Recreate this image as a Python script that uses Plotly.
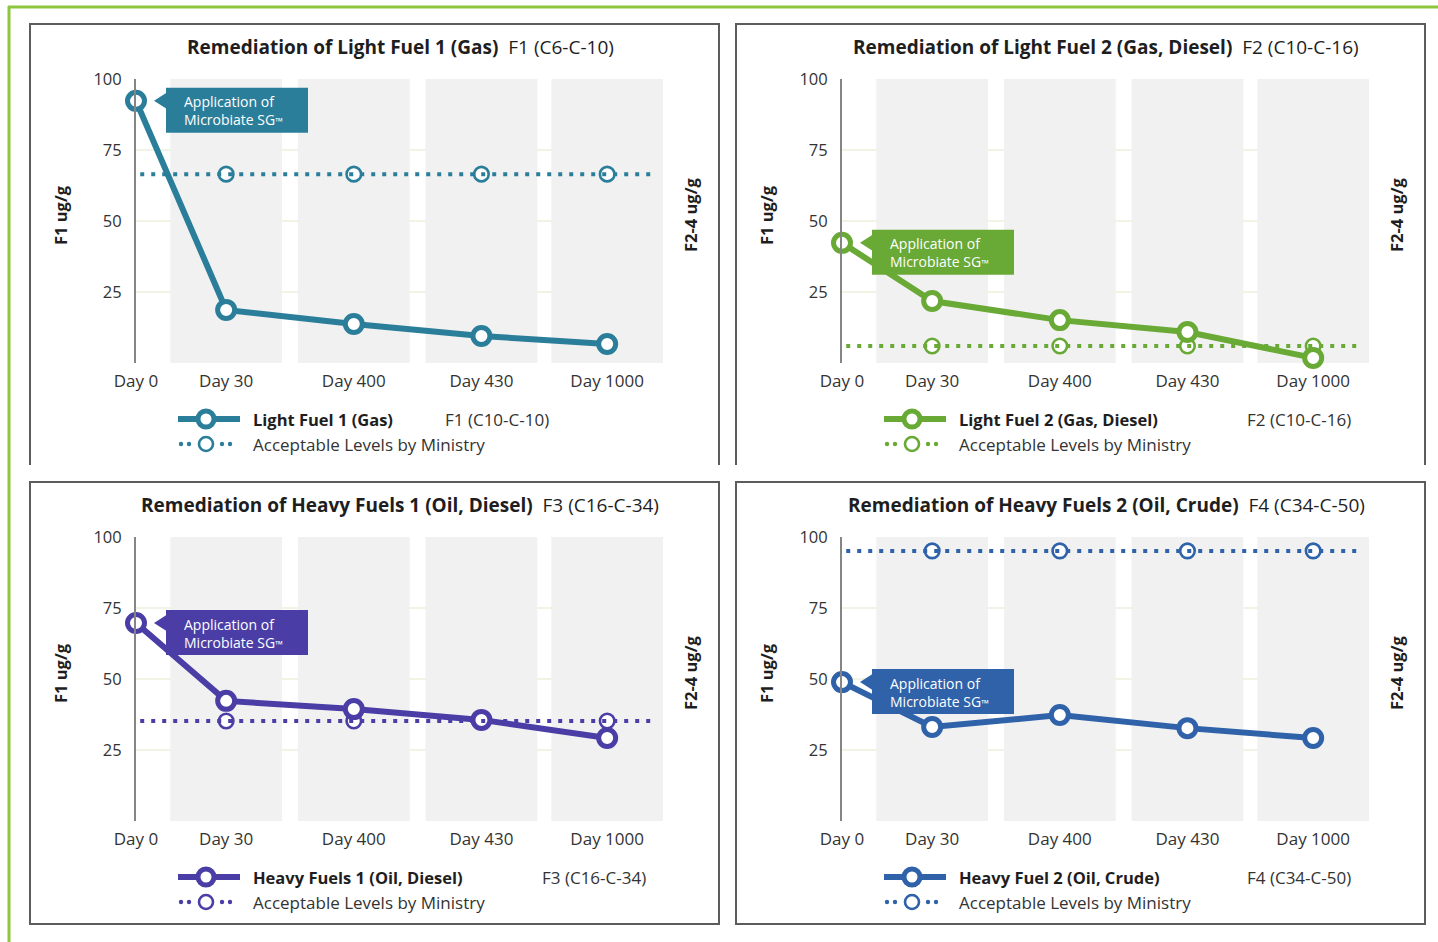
import plotly.graph_objects as go

# ---- data -------------------------------------------------------------
days = ["Day 0", "Day 30", "Day 400", "Day 430", "Day 1000"]
light_fuel_1 = [92.3, 18.7, 13.7, 9.5, 6.7]
light_fuel_2 = [42.3, 21.8, 15.1, 10.9, 1.8]
heavy_fuels_1 = [69.7, 42.3, 39.4, 35.6, 29.2]
heavy_fuel_2 = [48.9, 33.1, 37.3, 32.7, 29.2]
acceptable_levels = [66.5, 6.0, 35.2, 95.1]

titles = [
    "Remediation of Light Fuel 1 (Gas)",
    "Remediation of Light Fuel 2 (Gas, Diesel)",
    "Remediation of Heavy Fuels 1 (Oil, Diesel)",
    "Remediation of Heavy Fuels 2 (Oil, Crude)",
]
title_fractions = ["F1 (C6-C-10)", "F2 (C10-C-16)", "F3 (C16-C-34)", "F4 (C34-C-50)"]
series_names = [
    "Light Fuel 1 (Gas)",
    "Light Fuel 2 (Gas, Diesel)",
    "Heavy Fuels 1 (Oil, Diesel)",
    "Heavy Fuel 2 (Oil, Crude)",
]
legend_fractions = ["F1 (C10-C-10)", "F2 (C10-C-16)", "F3 (C16-C-34)", "F4 (C34-C-50)"]
acceptable_name = "Acceptable Levels by Ministry"
callout_text = "Application of<br>Microbiate SG<span style='font-size:10px'>™</span>"
y_ticks = [25, 50, 75, 100]
left_axis_title = "F1 ug/g"
right_axis_title = "F2-4 ug/g"

series = [light_fuel_1, light_fuel_2, heavy_fuels_1, heavy_fuel_2]

# ---- layout constants (pixels) ---------------------------------------
W, H = 1438, 942
FONT = "Open Sans"
TEXT = "#333333"
DARK = "#1e1e1e"
colors = ["#2b7e9a", "#69a935", "#4a3ea6", "#2f62a9"]
BAND = "#f1f1f1"
GRID = "#e3e8c9"
BORDER = "#5c5c5c"
FRAME = "#8dc63f"

# horizontal placement of the day columns (axis units, one band = 1 unit)
day_pos = [0, 0.71, 1.715, 2.72, 3.71]
BAND_HALF = 0.44
UNIT_PX = 127

# panel offsets relative to the top-left panel
offsets = [(0, 0), (706, 0), (0, 458), (706, 458)]
legend_fraction_x = [443, 1245, 540, 1245]

PLOT_L, PLOT_R, PLOT_T, PLOT_B = 136, 663, 79, 363


def px(x):
    return x / W


def py(y):
    return 1 - y / H


fig = go.Figure()
shapes = []
annotations = []

# outer green frame
shapes.append(dict(type="line", xref="paper", yref="paper",
                   x0=px(8), x1=1, y0=py(7), y1=py(7),
                   line=dict(color=FRAME, width=3)))
shapes.append(dict(type="line", xref="paper", yref="paper",
                   x0=px(9), x1=px(9), y0=py(6), y1=0,
                   line=dict(color=FRAME, width=3)))

for i in range(4):
    dx, dy = offsets[i]
    color = colors[i]
    xa = "x" if i == 0 else f"x{i + 1}"
    ya = "y" if i == 0 else f"y{i + 1}"
    xa_key = "xaxis" if i == 0 else f"xaxis{i + 1}"
    ya_key = "yaxis" if i == 0 else f"yaxis{i + 1}"

    # panel border
    left, right = 30 + dx, 719 + dx
    top = 24 + dy
    if dy == 0:
        path = f"M{px(left)},{py(465)} L{px(left)},{py(top)} L{px(right)},{py(top)} L{px(right)},{py(465)}"
        shapes.append(dict(type="path", xref="paper", yref="paper", path=path,
                           line=dict(color=BORDER, width=2)))
    else:
        shapes.append(dict(type="rect", xref="paper", yref="paper",
                           x0=px(left), x1=px(right), y0=py(top), y1=py(924),
                           line=dict(color=BORDER, width=2)))

    fig.update_layout({
        xa_key: dict(
            domain=[px(PLOT_L + dx), px(PLOT_R + dx)],
            range=[0, (PLOT_R - PLOT_L) / UNIT_PX],
            anchor=ya, tickvals=day_pos, ticktext=days, automargin=False,
            ticks="outside", ticklen=3, tickcolor="rgba(0,0,0,0)",
            showgrid=False, zeroline=False, showline=False, fixedrange=True,
            tickfont=dict(family=FONT, size=17, color=TEXT),
        ),
        ya_key: dict(
            domain=[py(PLOT_B + dy), py(PLOT_T + dy)],
            range=[0, 100], anchor=xa, tickvals=y_ticks, automargin=False,
            ticks="outside", ticklen=9, tickcolor="rgba(0,0,0,0)",
            showgrid=False, zeroline=False, showline=True,
            linecolor="#858585", linewidth=2, fixedrange=True,
            tickfont=dict(family=FONT, size=16.5, color=TEXT),
        ),
    })

    # grey column bands
    for p in day_pos[1:]:
        shapes.append(dict(type="rect", xref=xa, yref=ya, layer="below",
                           x0=p - BAND_HALF, x1=p + BAND_HALF, y0=0, y1=100,
                           fillcolor=BAND, line=dict(width=0)))
    # gridlines
    for t in y_ticks[:-1]:
        shapes.append(dict(type="line", xref=f"{xa} domain", yref=ya, layer="below",
                           x0=0, x1=1, y0=t, y1=t, line=dict(color=GRID, width=1)))

    # acceptable level dotted line
    acc = acceptable_levels[i]
    shapes.append(dict(type="line", xref=f"{xa} domain", yref=ya,
                       x0=0.008, x1=0.988, y0=acc, y1=acc,
                       line=dict(color=color, width=4, dash="4px,7px")))

    fig.add_trace(go.Scatter(
        x=day_pos[1:], y=[acc] * (len(days) - 1), xaxis=xa, yaxis=ya,
        mode="markers", cliponaxis=False, showlegend=False, hoverinfo="skip",
        marker=dict(size=14.5, color="white", line=dict(color=color, width=2.6)),
    ))

    # remediation series
    vals = series[i]
    fig.add_trace(go.Scatter(
        x=day_pos, y=vals, xaxis=xa, yaxis=ya, name=series_names[i],
        mode="lines+markers", cliponaxis=False, showlegend=False,
        line=dict(color=color, width=6),
        marker=dict(size=17, color="white", line=dict(color=color, width=5)),
    ))

    # callout at the first reading
    shapes.append(dict(type="rect", xref=xa, yref=ya, layer="above",
                       xsizemode="pixel", ysizemode="pixel",
                       xanchor=day_pos[0], yanchor=vals[0],
                       x0=30, x1=172, y0=13, y1=-32,
                       fillcolor=color, line=dict(width=0)))
    shapes.append(dict(type="path", xref=xa, yref=ya, layer="above",
                       xsizemode="pixel", ysizemode="pixel",
                       xanchor=day_pos[0], yanchor=vals[0],
                       path="M18,0 L30.5,8 L30.5,-8 Z",
                       fillcolor=color, line=dict(width=0)))
    annotations.append(dict(xref=xa, yref=ya, x=day_pos[0], y=vals[0],
                            xanchor="left", yanchor="middle", xshift=46, yshift=-10,
                            text=callout_text, showarrow=False, align="left",
                            font=dict(family=FONT, size=14, color="white")))

    # titles
    annotations.append(dict(xref="paper", yref="paper", x=px(400 + dx), y=py(47 + dy),
                            xanchor="center", yanchor="middle", showarrow=False,
                            text=f"<b>{titles[i]}</b> &nbsp;{title_fractions[i]}",
                            font=dict(family=FONT, size=19, color=DARK)))
    annotations.append(dict(xref="paper", yref="paper", x=px(60 + dx), y=py(215 + dy),
                            xanchor="center", yanchor="middle", showarrow=False,
                            textangle=-90, text=f"<b>{left_axis_title}</b>",
                            font=dict(family=FONT, size=16.5, color=DARK)))
    annotations.append(dict(xref="paper", yref="paper", x=px(690 + dx), y=py(215 + dy),
                            xanchor="center", yanchor="middle", showarrow=False,
                            textangle=-90, text=f"<b>{right_axis_title}</b>",
                            font=dict(family=FONT, size=16.5, color=DARK)))

    # legend block
    r1, r2 = 419 + dy, 444 + dy
    shapes.append(dict(type="line", xref="paper", yref="paper",
                       x0=px(178 + dx), x1=px(240 + dx), y0=py(r1), y1=py(r1),
                       line=dict(color=color, width=6)))
    shapes.append(dict(type="circle", xref="paper", yref="paper",
                       xsizemode="pixel", ysizemode="pixel",
                       xanchor=px(206 + dx), yanchor=py(r1),
                       x0=-8, x1=8, y0=-8, y1=8,
                       fillcolor="white", line=dict(color=color, width=5)))
    for d in (181, 189, 222, 230):
        shapes.append(dict(type="circle", xref="paper", yref="paper",
                           xsizemode="pixel", ysizemode="pixel",
                           xanchor=px(d + dx), yanchor=py(r2),
                           x0=-2.2, x1=2.2, y0=-2.2, y1=2.2,
                           fillcolor=color, line=dict(width=0)))
    shapes.append(dict(type="circle", xref="paper", yref="paper",
                       xsizemode="pixel", ysizemode="pixel",
                       xanchor=px(206 + dx), yanchor=py(r2),
                       x0=-7, x1=7, y0=-7, y1=7,
                       fillcolor="white", line=dict(color=color, width=2.6)))
    annotations.append(dict(xref="paper", yref="paper", x=px(251 + dx), y=py(r1),
                            xanchor="left", yanchor="middle", showarrow=False,
                            text=f"<b>{series_names[i]}</b>",
                            font=dict(family=FONT, size=16.5, color=DARK)))
    annotations.append(dict(xref="paper", yref="paper", x=px(legend_fraction_x[i]), y=py(r1),
                            xanchor="left", yanchor="middle", showarrow=False,
                            text=legend_fractions[i],
                            font=dict(family=FONT, size=17, color=TEXT)))
    annotations.append(dict(xref="paper", yref="paper", x=px(251 + dx), y=py(r2),
                            xanchor="left", yanchor="middle", showarrow=False,
                            text=acceptable_name,
                            font=dict(family=FONT, size=17, color=TEXT)))

fig.update_layout(
    width=W, height=H, autosize=False,
    margin=dict(l=0, r=0, t=0, b=0, pad=0, autoexpand=False),
    paper_bgcolor="white", plot_bgcolor="rgba(0,0,0,0)",
    showlegend=False,
    shapes=shapes, annotations=annotations,
    font=dict(family=FONT, color=TEXT),
)

fig.write_html("out.html")
